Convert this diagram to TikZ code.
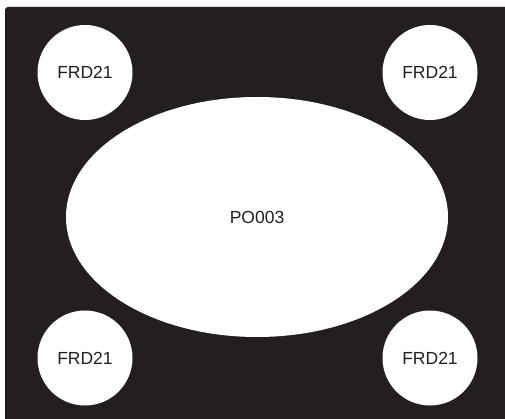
\documentclass[tikz,border=0pt]{standalone}
\usepackage{fontspec}
\setmainfont{Liberation Sans}
\usetikzlibrary{shapes.geometric}
\definecolor{ink}{RGB}{35,31,32}
\begin{document}
\begin{tikzpicture}[x=1pt,y=-1pt,
  hole/.style={circle,fill=white,inner sep=0pt,minimum size=95pt,text=ink,font=\fontsize{17.5}{20}\selectfont},
  bighole/.style={ellipse,fill=white,inner sep=0pt,minimum width=382pt,minimum height=240pt,text=ink,font=\fontsize{17.5}{20}\selectfont}]
\useasboundingbox (0,0) rectangle (505,419);
\fill[ink,rounded corners=3pt] (5,7) rectangle (510,424);
\node[hole] (tl) at (85,72.5) {FRD21};
\node[hole] (tr) at (430,72.5) {FRD21};
\node[hole] (bl) at (85,358) {FRD21};
\node[hole] (br) at (430,358) {FRD21};
\node[bighole] (po) at (257,217) {PO003};
\end{tikzpicture}
\end{document}
